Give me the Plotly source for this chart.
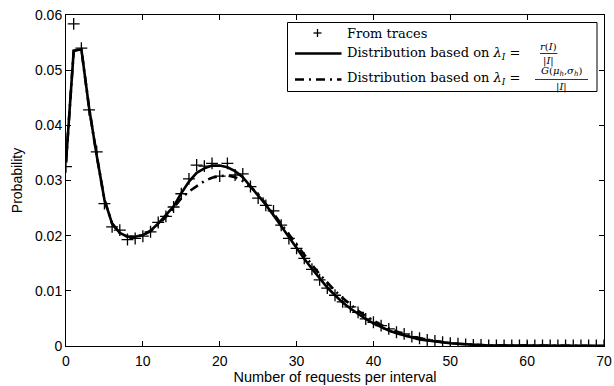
import plotly.graph_objects as go

x_vals = list(range(0, 71))

trace_prob = [0.0325, 0.0584, 0.0540, 0.0428, 0.0352, 0.0258, 0.0216, 0.0210, 0.0193, 0.0195,
              0.0199, 0.0207, 0.0224, 0.0235, 0.0252, 0.0276, 0.0303, 0.0328, 0.0326, 0.0331,
              0.0308, 0.0331, 0.0310, 0.0312, 0.0289, 0.0268, 0.0255, 0.0245, 0.0219, 0.0195,
              0.0177, 0.0159, 0.0139, 0.0120, 0.0105, 0.0092, 0.0080, 0.0071, 0.0061, 0.0049,
              0.0043, 0.0037, 0.0031, 0.0025, 0.0022, 0.0017, 0.0014, 0.0011, 0.0009, 0.0007,
              0.0005, 0.0004, 0.0003, 0.0002, 0.0002, 0.0001, 0.0001, 0.0001, 0.0001, 0.0001,
              0.0001, 0.0001, 0.0001, 0.0001, 0.0001, 0.0001, 0.0001, 0.0001, 0.0001, 0.0001,
              0.0001]

rate_prob = [0.0333, 0.0535, 0.0538, 0.0432, 0.0345, 0.0265, 0.0222, 0.0205, 0.0198, 0.0198,
             0.0201, 0.0209, 0.0222, 0.0237, 0.0253, 0.0277, 0.0298, 0.0314, 0.0322, 0.0327,
             0.0327, 0.0324, 0.0317, 0.0306, 0.0290, 0.0274, 0.0256, 0.0237, 0.0217, 0.0197,
             0.0178, 0.0158, 0.0140, 0.0122, 0.0106, 0.0092, 0.0079, 0.0068, 0.0058, 0.0049,
             0.0041, 0.0034, 0.0028, 0.0023, 0.0019, 0.0015, 0.0012, 0.0010, 0.0008, 0.0006,
             0.0005, 0.0004, 0.0003, 0.0002, 0.0002, 0.0001, 0.0001, 0.0001, 0.0000, 0.0000,
             0.0000, 0.0000, 0.0000, 0.0000, 0.0000, 0.0000, 0.0000, 0.0000, 0.0000, 0.0000,
             0.0000]

gauss_prob = [0.0333, 0.0535, 0.0538, 0.0432, 0.0345, 0.0265, 0.0222, 0.0205, 0.0198, 0.0198,
              0.0201, 0.0208, 0.0220, 0.0234, 0.0250, 0.0268, 0.0280, 0.0290, 0.0299, 0.0305,
              0.0308, 0.0309, 0.0306, 0.0299, 0.0289, 0.0275, 0.0258, 0.0240, 0.0221, 0.0202,
              0.0183, 0.0165, 0.0147, 0.0130, 0.0114, 0.0100, 0.0087, 0.0075, 0.0064, 0.0054,
              0.0046, 0.0038, 0.0032, 0.0026, 0.0021, 0.0017, 0.0014, 0.0011, 0.0009, 0.0007,
              0.0005, 0.0004, 0.0003, 0.0002, 0.0002, 0.0001, 0.0001, 0.0001, 0.0000, 0.0000,
              0.0000, 0.0000, 0.0000, 0.0000, 0.0000, 0.0000, 0.0000, 0.0000, 0.0000, 0.0000,
              0.0000]

x_ticks = [0, 10, 20, 30, 40, 50, 60, 70]
y_ticks = [0, 0.01, 0.02, 0.03, 0.04, 0.05, 0.06]
y_tick_labels = ["0", "0.01", "0.02", "0.03", "0.04", "0.05", "0.06"]

legend_texts = [
    "From traces",
    "Distribution based on <i>λ<sub>I</sub></i> =",
    "Distribution based on <i>λ<sub>I</sub></i> =",
]
fraction_numerators = [
    "<i>r</i>(<i>I</i>)",
    "<i>G</i>(<i>μ<sub>h</sub></i>,<i>σ<sub>h</sub></i>)",
]
fraction_denominator = "|<i>I</i>|"

DASHDOT = "9px,5px,2px,5px"

fig = go.Figure()
fig.add_trace(go.Scatter(
    x=x_vals, y=trace_prob, mode="markers", name=legend_texts[0],
    marker=dict(symbol="cross-thin", size=8.5, line=dict(color="black", width=1.3)),
))
fig.add_trace(go.Scatter(
    x=x_vals, y=rate_prob, mode="lines", name="rate",
    line=dict(color="black", width=2.6),
))
fig.add_trace(go.Scatter(
    x=x_vals, y=gauss_prob, mode="lines", name="gauss",
    line=dict(color="black", width=2.6, dash=DASHDOT),
))

L, R, T, B = 66, 10, 15, 40
W, H = 614, 386
PW, PH = W - L - R, H - T - B


def px_x(p):
    return (p - L) / PW


def px_y(p):
    return (H - B - p) / PH


serif = "DejaVu Serif"
tfont = dict(family=serif, size=13, color="black")
ffont = dict(family=serif, size=10, color="black")

annotations = []
row_y = [33, 53.5, 78.5]
for txt, ry in zip(legend_texts, row_y):
    annotations.append(dict(x=px_x(346), y=px_y(ry), text=txt, font=tfont,
                            xanchor="left", yanchor="middle"))
annotations += [
    dict(x=px_x(548.5), y=px_y(52.5), text=fraction_numerators[0], font=ffont,
         xanchor="center", yanchor="bottom"),
    dict(x=px_x(548.5), y=px_y(54.5), text=fraction_denominator, font=ffont,
         xanchor="center", yanchor="top"),
    dict(x=px_x(561.5), y=px_y(78.5), text=fraction_numerators[1], font=ffont,
         xanchor="center", yanchor="bottom"),
    dict(x=px_x(561.5), y=px_y(80.5), text=fraction_denominator, font=ffont,
         xanchor="center", yanchor="top"),
]
for a in annotations:
    a.update(xref="paper", yref="paper", showarrow=False, borderpad=0)


def pline(x0, y0, x1, y1, width, dash="solid"):
    return dict(type="line", xref="paper", yref="paper",
                x0=px_x(x0), x1=px_x(x1), y0=px_y(y0), y1=px_y(y1),
                line=dict(color="black", width=width, dash=dash))


shapes = [
    dict(type="rect", xref="paper", yref="paper",
         x0=px_x(287.5), x1=px_x(597), y0=px_y(22.5), y1=px_y(91.5),
         fillcolor="white", line=dict(color="black", width=1), layer="above"),
    # legend sample: "+" marker
    pline(313.5, 33, 321.5, 33, 1.3),
    pline(317.5, 29, 317.5, 37, 1.3),
    # legend sample: solid line
    pline(295, 53.5, 341.5, 53.5, 2.6),
    # legend sample: dash-dot line
    pline(295, 79.5, 341.5, 79.5, 2.6, DASHDOT),
    # fraction bars
    pline(540, 53.5, 557.5, 53.5, 0.8),
    pline(535, 79.5, 588, 79.5, 0.8),
]
for s in shapes:
    s.setdefault("layer", "above")

axis_common = dict(
    showgrid=False, zeroline=False, showline=True, linecolor="black", linewidth=1,
    mirror="ticks", ticks="inside", ticklen=5, tickcolor="black", tickwidth=1,
    tickfont=dict(family="Liberation Sans, Arial", size=14, color="black"),
    automargin=False,
)

fig.update_layout(
    width=W, height=H,
    margin=dict(l=L, r=R, t=T, b=B),
    paper_bgcolor="white", plot_bgcolor="white",
    xaxis=dict(range=[0, 70], tickvals=x_ticks, ticklabelstandoff=2,
               title=dict(text="Number of requests per interval",
                          font=dict(family="Liberation Sans, Arial", size=14.5, color="black"),
                          standoff=2),
               **axis_common),
    yaxis=dict(range=[0, 0.06], tickvals=y_ticks, ticktext=y_tick_labels,
               title=dict(text="Probability",
                          font=dict(family="Liberation Sans, Arial", size=14, color="black"),
                          standoff=9),
               **axis_common),
    annotations=annotations,
    shapes=shapes,
    showlegend=False,
)

fig.write_html("out.html")
